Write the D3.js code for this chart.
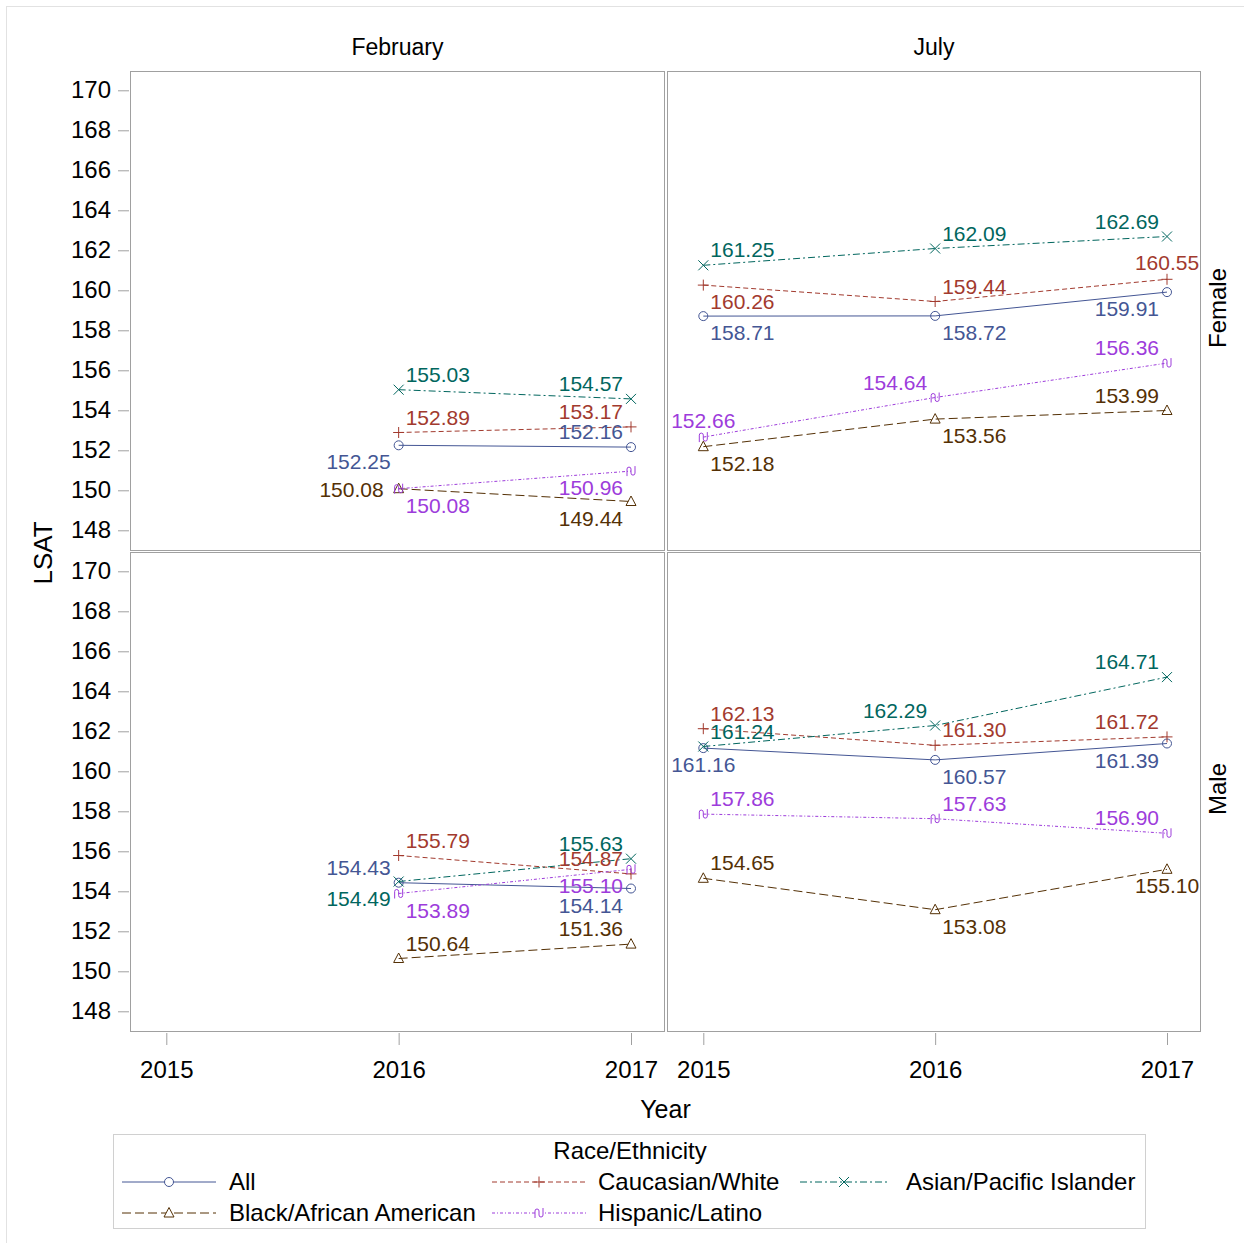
<!DOCTYPE html>
<html><head><meta charset="utf-8">
<script src="https://cdn.jsdelivr.net/npm/d3@7/dist/d3.min.js"></script>
<style>
body{margin:0;background:#fff}
svg{display:block;font-family:Arial,"Liberation Sans",Helvetica,sans-serif}
</style>
</head><body>
<svg id="chart" width="1244" height="1243"></svg>
<script>
// ---------- data ----------
const columns = ["February", "July"];
const rows = ["Female", "Male"];
const yearTicks = [2015, 2016, 2017];
const lsatTicks = [148, 150, 152, 154, 156, 158, 160, 162, 164, 166, 168, 170];
const groups = ["All", "Caucasian/White", "Asian/Pacific Islander", "Black/African American", "Hispanic/Latino"];
const febYears = [2016, 2017];
const julYears = [2015, 2016, 2017];

// values per group (order of groups), per year
const femaleFebValues = [[152.25, 152.16], [152.89, 153.17], [155.03, 154.57], [150.08, 149.44], [150.08, 150.96]];
const femaleJulValues = [[158.71, 158.72, 159.91], [160.26, 159.44, 160.55], [161.25, 162.09, 162.69], [152.18, 153.56, 153.99], [152.66, 154.64, 156.36]];
const maleFebValues = [[154.43, 154.14], [155.79, 154.87], [154.49, 155.63], [150.64, 151.36], [153.89, 155.10]];
const maleJulValues = [[161.16, 160.57, 161.39], [162.13, 161.30, 161.72], [161.24, 162.29, 164.71], [154.65, 153.08, 155.10], [157.86, 157.63, 156.90]];

// label placement (layout) per point
const femaleFebLabelPos = [["SW", "NW"], ["NE", "NW"], ["NE", "NW"], ["W", "SW"], ["SE", "SW"]];
const femaleJulLabelPos = [["SE", "SE", "SW"], ["SE", "NE", "N"], ["NE", "NE", "NW"], ["SE", "SE", "NW"], ["N", "NW", "NW"]];
const maleFebLabelPos = [["NW", "SW"], ["NE", "NW"], ["SW", "NW"], ["NE", "NW"], ["SE", "SW"]];
const maleJulLabelPos = [["S", "SE", "SW"], ["NE", "NE", "NW"], ["NE", "NW", "NW"], ["NE", "SE", "S"], ["NE", "NE", "NW"]];

// ---------- styles ----------
const groupColors = ["#445694", "#A23A2E", "#01665E", "#543005", "#9D3CDB"];
const groupDash = [null, "5,3", "7,3,2,3", "9,4", "3,2,1,2"];
const groupMarker = ["circle", "plus", "x", "triangle", "tilde"];
const frameColor = "#a0a0a0";

const svg = d3.select("#chart");

// outer border (left/top visible)
svg.append("rect").attr("x", 6.5).attr("y", 6.5).attr("width", 1250).attr("height", 1250)
  .attr("fill", "none").attr("stroke", "#e2e2e2");

const colX = [[131, 664], [668, 1200]];
const rowY = [[72, 550], [553, 1031]];

const panels = [
  {col: 0, row: 0, years: febYears, values: femaleFebValues, pos: femaleFebLabelPos},
  {col: 1, row: 0, years: julYears, values: femaleJulValues, pos: femaleJulLabelPos},
  {col: 0, row: 1, years: febYears, values: maleFebValues, pos: maleFebLabelPos},
  {col: 1, row: 1, years: julYears, values: maleJulValues, pos: maleJulLabelPos}
];

function xScale(col) {
  const [a, b] = colX[col];
  return d3.scaleLinear().domain([2015, 2017]).range([a + 35.3, b - 33]);
}
function yScale(row) {
  const [t, b] = rowY[row];
  return d3.scaleLinear().domain([148, 170]).range([b - 19.7, t + 18.3]);
}

function markerPath(type) {
  switch (type) {
    case "circle": return "M-4.5,0A4.5,4.5 0 1,0 4.5,0A4.5,4.5 0 1,0 -4.5,0Z";
    case "plus": return "M-5.5,0H5.5M0,-5.5V5.5";
    case "x": return "M-5,-5L5,5M-5,5L5,-5";
    case "triangle": return "M0,-5.5L5,4L-5,4Z";
    case "tilde": return "M-4,5V-2A2,2 0 0,1 0,-2V2A2,2 0 0,0 4,2V-5";
  }
}

const labelOffsets = {
  NE: {anchor: "start", dx: 7, dy: -8},
  NW: {anchor: "end", dx: -8, dy: -8},
  SE: {anchor: "start", dx: 7, dy: 24},
  SW: {anchor: "end", dx: -8, dy: 24},
  N: {anchor: "middle", dx: 0, dy: -9},
  S: {anchor: "middle", dx: 0, dy: 24},
  W: {anchor: "end", dx: -15, dy: 8}
};

// column headers
columns.forEach((c, i) => {
  svg.append("text").attr("x", (colX[i][0] + colX[i][1]) / 2).attr("y", 55)
    .attr("text-anchor", "middle").attr("font-size", 23).attr("fill", "#000").text(c);
});
// row headers
rows.forEach((r, i) => {
  const cy = (rowY[i][0] + rowY[i][1]) / 2 - 3;
  svg.append("text").attr("transform", `translate(1226,${cy}) rotate(-90)`)
    .attr("text-anchor", "middle").attr("font-size", 24).attr("fill", "#000").text(r);
});

// y axes (left column)
rowY.forEach((ry, r) => {
  const g = svg.append("g").attr("transform", "translate(129,0)")
    .call(d3.axisLeft(yScale(r)).tickValues(lsatTicks).tickSize(11).tickSizeOuter(0).tickPadding(7).tickFormat(d3.format("d")));
  g.select(".domain").remove();
  g.selectAll(".tick line").attr("stroke", frameColor);
  g.selectAll(".tick text").attr("font-size", 24).attr("fill", "#000");
  g.attr("font-family", null).attr("font-size", null);
});

// x axes (bottom row)
colX.forEach((cx, c) => {
  const g = svg.append("g").attr("transform", "translate(0,1033)")
    .call(d3.axisBottom(xScale(c)).tickValues(yearTicks).tickSize(12).tickSizeOuter(0).tickPadding(16).tickFormat(d3.format("d")));
  g.select(".domain").remove();
  g.selectAll(".tick line").attr("stroke", frameColor);
  g.selectAll(".tick text").attr("font-size", 24).attr("fill", "#000");
  g.attr("font-family", null).attr("font-size", null);
});

// axis titles
svg.append("text").attr("x", 665.5).attr("y", 1118).attr("text-anchor", "middle")
  .attr("font-size", 25).attr("fill", "#000").text("Year");
svg.append("text").attr("transform", "translate(52,553) rotate(-90)").attr("text-anchor", "middle")
  .attr("font-size", 26).attr("fill", "#000").text("LSAT");

// panels
panels.forEach(p => {
  const x = xScale(p.col), y = yScale(p.row);
  const [x0, x1] = colX[p.col], [y0, y1] = rowY[p.row];
  svg.append("rect").attr("x", x0 - 0.5).attr("y", y0 - 0.5).attr("width", x1 - x0 + 1).attr("height", y1 - y0 + 1)
    .attr("fill", "none").attr("stroke", frameColor);
  const g = svg.append("g");
  p.values.forEach((vals, gi) => {
    const pts = vals.map((v, i) => ({year: p.years[i], v, pos: p.pos[gi][i]}));
    const line = d3.line().x(d => x(d.year)).y(d => y(d.v));
    g.append("path").attr("d", line(pts)).attr("fill", "none")
      .attr("stroke", groupColors[gi]).attr("stroke-width", 1)
      .attr("stroke-dasharray", groupDash[gi]);
    g.selectAll(null).data(pts).enter().append("path")
      .attr("transform", d => `translate(${x(d.year)},${y(d.v)})`)
      .attr("d", markerPath(groupMarker[gi])).attr("fill", "none")
      .attr("stroke", groupColors[gi]).attr("stroke-width", 1);
  });
  // labels drawn on top
  p.values.forEach((vals, gi) => {
    const pts = vals.map((v, i) => ({year: p.years[i], v, pos: p.pos[gi][i]}));
    g.selectAll(null).data(pts).enter().append("text")
      .attr("x", d => x(d.year) + labelOffsets[d.pos].dx)
      .attr("y", d => y(d.v) + labelOffsets[d.pos].dy)
      .attr("text-anchor", d => labelOffsets[d.pos].anchor)
      .attr("font-size", 21).attr("fill", groupColors[gi])
      .text(d => d.v.toFixed(2));
  });
});

// legend
const lg = svg.append("g");
lg.append("rect").attr("x", 113.5).attr("y", 1134.5).attr("width", 1032).attr("height", 94)
  .attr("fill", "none").attr("stroke", "#d0d0d0");
lg.append("text").attr("x", 630).attr("y", 1159).attr("text-anchor", "middle")
  .attr("font-size", 24).attr("fill", "#000").text("Race/Ethnicity");
const legendCols = [[122, 216, 229], [492, 586, 598], [800, 888, 906]];
const legendRowsY = [1182, 1213];
groups.forEach((name, gi) => {
  const c = legendCols[gi % 3], ry = legendRowsY[Math.floor(gi / 3)];
  lg.append("line").attr("x1", c[0]).attr("x2", c[1]).attr("y1", ry).attr("y2", ry)
    .attr("stroke", groupColors[gi]).attr("stroke-width", 1).attr("stroke-dasharray", groupDash[gi]);
  lg.append("path").attr("transform", `translate(${(c[0] + c[1]) / 2},${ry})`)
    .attr("d", markerPath(groupMarker[gi])).attr("fill", "#fff").attr("stroke", groupColors[gi]);
  lg.append("text").attr("x", c[2]).attr("y", ry + 8).attr("font-size", 24).attr("fill", "#000").text(name);
});
</script>
</body></html>
